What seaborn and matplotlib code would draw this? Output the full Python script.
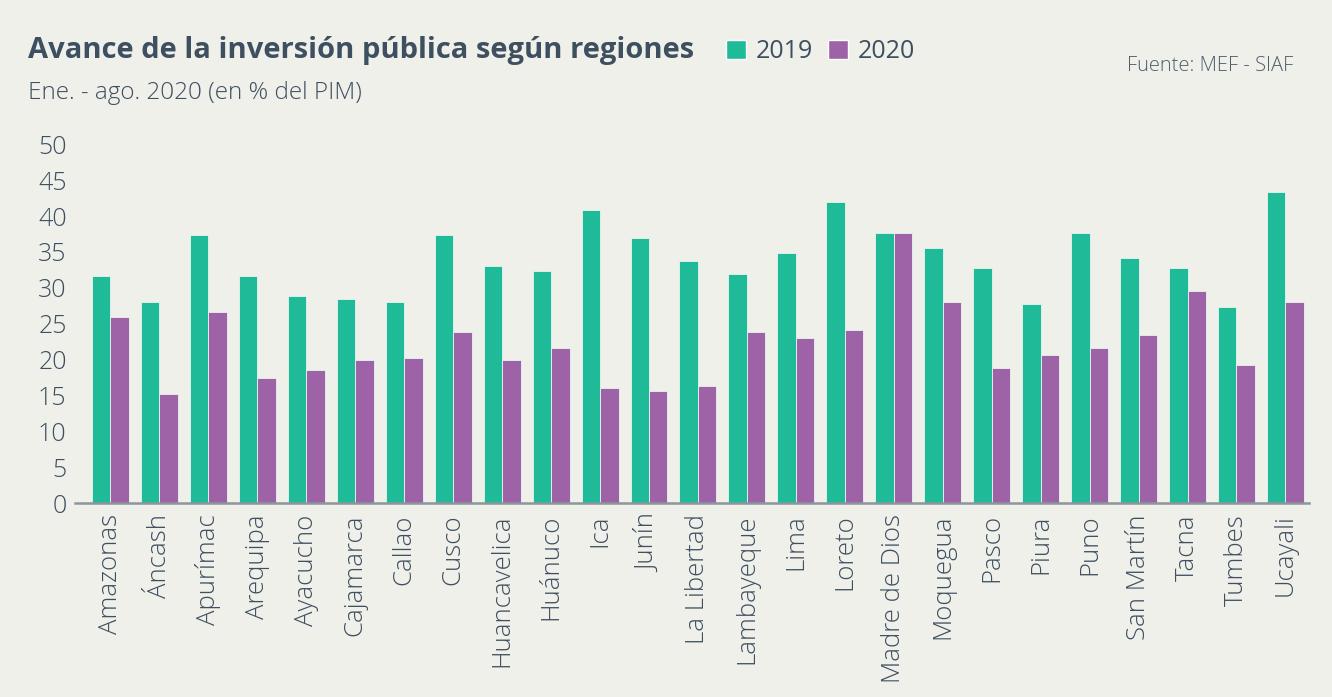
import numpy as np
import pandas as pd
import matplotlib
matplotlib.use("Agg")
import matplotlib.pyplot as plt
import seaborn as sns
from matplotlib.patches import Patch

regiones = ["Amazonas", "Áncash", "Apurímac", "Arequipa", "Ayacucho", "Cajamarca",
            "Callao", "Cusco", "Huancavelica", "Huánuco", "Ica", "Junín",
            "La Libertad", "Lambayeque", "Lima", "Loreto", "Madre de Dios",
            "Moquegua", "Pasco", "Piura", "Puno", "San Martín", "Tacna",
            "Tumbes", "Ucayali"]
avance_2019 = [31.6, 28.0, 37.3, 31.6, 28.8, 28.4, 28.0, 37.3, 33.0, 32.3, 40.8, 36.9,
               33.7, 31.9, 34.8, 41.9, 37.6, 35.5, 32.7, 27.7, 37.6, 34.1, 32.7,
               27.3, 43.3]
avance_2020 = [25.9, 15.2, 26.6, 17.4, 18.5, 19.9, 20.2, 23.8, 19.9, 21.6, 16.0, 15.6,
               16.3, 23.8, 23.0, 24.1, 37.6, 28.0, 18.8, 20.6, 21.6, 23.4, 29.5,
               19.2, 28.0]
anios = ["2019", "2020"]

df = pd.DataFrame({
    "region": regiones * 2,
    "anio": [anios[0]] * len(regiones) + [anios[1]] * len(regiones),
    "valor": avance_2019 + avance_2020,
})

bg = "#F0F0EB"
txt = "#3E4F60"
colores = {"2019": "#1FBA98", "2020": "#9E62A6"}

sns.set_theme(style="white")
plt.rcParams["font.family"] = ["Open Sans", "DejaVu Sans"]

fig = plt.figure(figsize=(13.32, 6.97), dpi=100, facecolor=bg)
ax = fig.add_axes([0.0563, 0.278, 0.9264, 0.515])
ax.set_facecolor(bg)

sns.barplot(data=df, x="region", y="valor", hue="anio", palette=colores,
            width=0.755, saturation=1, edgecolor="#E8F5F0", linewidth=0.6,
            legend=False, ax=ax)

ax.set_ylim(0, 50)
ax.set_xlim(-0.725, len(regiones) - 0.52)
ax.set_yticks(range(0, 51, 5))
ax.tick_params(axis="y", labelsize=18, labelcolor=txt, length=0, pad=6)
ax.tick_params(axis="x", labelsize=18.5, labelcolor=txt, length=0, pad=8)
ax.set_xticks(range(len(regiones)))
ax.set_xticklabels(regiones, rotation=90, fontweight="light")
for t in ax.get_yticklabels():
    t.set_fontweight("light")
ax.set_xlabel("")
ax.set_ylabel("")
for s in ["top", "right", "left"]:
    ax.spines[s].set_visible(False)
ax.spines["bottom"].set_color("#8C969C")
ax.spines["bottom"].set_linewidth(1.8)

fig.text(0.021, 0.928, "Avance de la inversión pública según regiones", fontsize=21,
         fontweight="bold", color=txt, va="center")
fig.text(0.021, 0.867, "Ene. - ago. 2020 (en % del PIM)", fontsize=17.5,
         fontweight="light", color=txt, va="center")
fig.text(0.971, 0.905, "Fuente: MEF - SIAF", fontsize=14.5, color="#4E5E6C",
         ha="right", va="center", fontweight="light")

handles = [Patch(facecolor=colores[a], label=a) for a in anios]
fig.legend(handles=handles, loc="center left", bbox_to_anchor=(0.528, 0.926),
           ncol=2, frameon=False, fontsize=18, handlelength=0.8, handleheight=0.8,
           handletextpad=0.4, columnspacing=0.6, labelcolor=txt)

fig.savefig("out.png", dpi=100, facecolor=bg)
